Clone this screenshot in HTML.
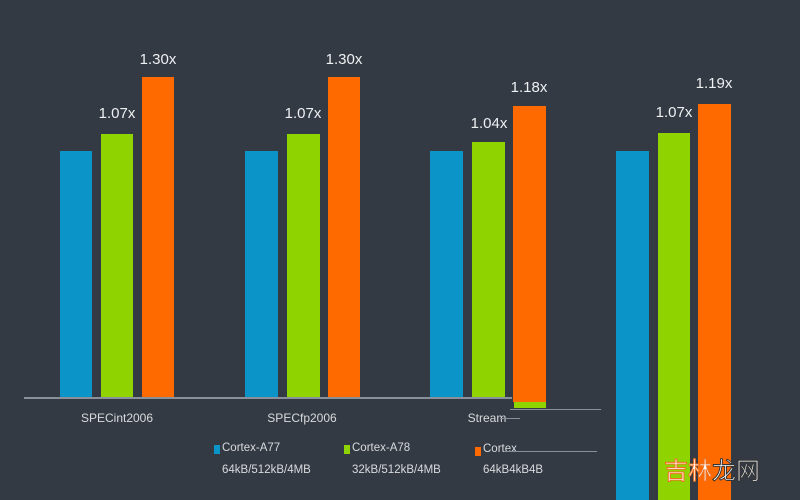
<!DOCTYPE html>
<html><head><meta charset="utf-8"><style>
html,body{margin:0;padding:0}
body{width:800px;height:500px;background:#343a44;position:relative;overflow:hidden;font-family:"Liberation Sans","Noto Sans CJK SC",sans-serif;color:#e6e8ea}
.b{position:absolute}
.bl{background:#0a94c8}.gr{background:#8fd400}.or{background:#ff6a00}
.t{position:absolute;font-size:15px;transform:translateX(-50%);white-space:nowrap;color:#eef0f2}
.c{position:absolute;font-size:12px;transform:translateX(-50%);color:#d8dadd}
.l{position:absolute;font-size:11.5px;color:#d8dadd;white-space:nowrap}
.ln{position:absolute;height:1px;background:#8a9099}
</style></head><body>
<div class="ln" style="left:24px;top:397px;width:488px;height:1.5px"></div>
<div class="b bl" style="left:60px;top:151px;width:32px;height:246px"></div>
<div class="b gr" style="left:101px;top:134px;width:32px;height:263px"></div>
<div class="b or" style="left:142px;top:77px;width:32px;height:320px"></div>
<div class="b bl" style="left:245px;top:151px;width:33px;height:246px"></div>
<div class="b gr" style="left:287px;top:134px;width:33px;height:263px"></div>
<div class="b or" style="left:328px;top:77px;width:32px;height:320px"></div>
<div class="b bl" style="left:430px;top:151px;width:33px;height:246px"></div>
<div class="b gr" style="left:472px;top:142px;width:33px;height:255px"></div>
<div class="b or" style="left:513px;top:106px;width:33px;height:296px"></div>
<div class="b gr" style="left:514px;top:402px;width:32px;height:6px"></div>
<div class="ln" style="left:510px;top:409px;width:91px"></div>
<div class="b bl" style="left:616px;top:151px;width:33px;height:349px"></div>
<div class="b gr" style="left:658px;top:133px;width:32px;height:367px"></div>
<div class="b or" style="left:698px;top:104px;width:33px;height:396px"></div>
<div class="t" style="left:117px;top:105px">1.07x</div>
<div class="t" style="left:158px;top:51px">1.30x</div>
<div class="t" style="left:303px;top:105px">1.07x</div>
<div class="t" style="left:344px;top:51px">1.30x</div>
<div class="t" style="left:489px;top:115px">1.04x</div>
<div class="t" style="left:529px;top:79px">1.18x</div>
<div class="t" style="left:674px;top:104px">1.07x</div>
<div class="t" style="left:714px;top:75px">1.19x</div>
<div class="c" style="left:117px;top:411px">SPECint2006</div>
<div class="c" style="left:302px;top:411px">SPECfp2006</div>
<div class="c" style="left:487px;top:411px">Stream</div>
<div class="ln" style="left:500px;top:418px;width:20px"></div>
<div class="b bl" style="left:214px;top:445px;width:6px;height:9px"></div>
<div class="l" style="left:222px;top:442px">Cortex-A77</div>
<div class="l" style="left:222px;top:464px">64kB/512kB/4MB</div>
<div class="b gr" style="left:344px;top:445px;width:6px;height:9px"></div>
<div class="l" style="left:352px;top:442px">Cortex-A78</div>
<div class="l" style="left:352px;top:464px">32kB/512kB/4MB</div>
<div class="b or" style="left:475px;top:447px;width:6px;height:9px"></div>
<div class="l" style="left:483px;top:443px">Cortex</div>
<div class="ln" style="left:505px;top:451px;width:92px"></div>
<div class="l" style="left:483px;top:464px">64kB4kB4B</div>
<div style="position:absolute;left:664px;top:451px;font-size:24px;color:#fff;-webkit-text-stroke:1px #f07020">吉林<span style="-webkit-text-stroke:1px #333">龙网</span></div>
</body></html>
